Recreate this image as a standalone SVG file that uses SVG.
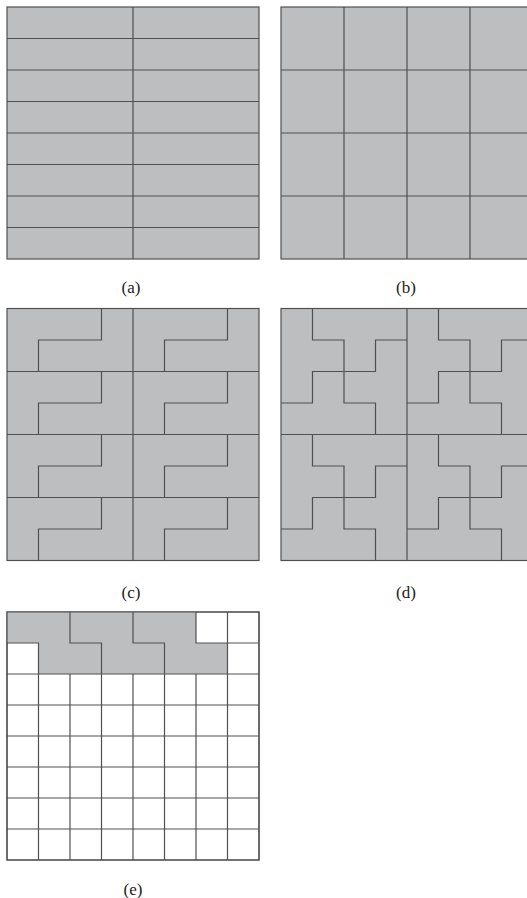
<svg xmlns="http://www.w3.org/2000/svg" xmlns:xlink="http://www.w3.org/1999/xlink" width="527" height="898" viewBox="0 0 527 898">
<style>
.panel{fill:#bdbec0;stroke:#505050;stroke-width:1.2}
.ln{fill:none;stroke:#505050;stroke-width:1.2}
.wpanel{fill:#ffffff;stroke:#505050;stroke-width:1.2}
.lbl{font-family:"Liberation Serif","DejaVu Serif",serif;font-size:17px;fill:#222;text-anchor:middle}
</style>
<defs>
<path id="cblk" class="ln" d="M94.5,0 V31.5 H31.5 V63"/>
<g id="dq">
<path class="ln" d="M31.5,0 V31.5 H63 V94.5 H94.5 V126"/>
<path class="ln" d="M126,31.5 H94.5 V63 H63"/>
<path class="ln" d="M0,94.5 H31.5 V63 H63"/>
</g>
</defs>
<rect width="527" height="898" fill="#ffffff"/>

<g id="panel-a">
<rect class="panel" x="7" y="7" width="252" height="252"/>
<path class="ln" d="M133,7 V259 M7,38.5 H259 M7,70 H259 M7,101.5 H259 M7,133 H259 M7,164.5 H259 M7,196 H259 M7,227.5 H259"/>
<text class="lbl" x="131" y="293">(a)</text>
</g>

<g id="panel-b">
<rect class="panel" x="281" y="7" width="252" height="252"/>
<path class="ln" d="M344,7 V259 M407,7 V259 M470,7 V259 M281,70 H533 M281,133 H533 M281,196 H533"/>
<text class="lbl" x="406" y="293">(b)</text>
</g>

<g id="panel-c">
<rect class="panel" x="7" y="308.5" width="252" height="252"/>
<path class="ln" d="M133,308.5 V560.5 M7,371.5 H259 M7,434.5 H259 M7,497.5 H259"/>
<use xlink:href="#cblk" x="7" y="308.5"/>
<use xlink:href="#cblk" x="133" y="308.5"/>
<use xlink:href="#cblk" x="7" y="371.5"/>
<use xlink:href="#cblk" x="133" y="371.5"/>
<use xlink:href="#cblk" x="7" y="434.5"/>
<use xlink:href="#cblk" x="133" y="434.5"/>
<use xlink:href="#cblk" x="7" y="497.5"/>
<use xlink:href="#cblk" x="133" y="497.5"/>
<text class="lbl" x="131" y="598">(c)</text>
</g>

<g id="panel-d">
<rect class="panel" x="281" y="308.5" width="252" height="252"/>
<path class="ln" d="M407,308.5 V560.5 M281,434.5 H533"/>
<use xlink:href="#dq" x="281" y="308.5"/>
<use xlink:href="#dq" x="407" y="308.5"/>
<use xlink:href="#dq" x="281" y="434.5"/>
<use xlink:href="#dq" x="407" y="434.5"/>
<text class="lbl" x="406" y="598">(d)</text>
</g>

<g id="panel-e">
<rect class="wpanel" x="7" y="612" width="252" height="248"/>
<rect x="7" y="612" width="189" height="31" fill="#bdbec0"/>
<rect x="38.5" y="643" width="189" height="31" fill="#bdbec0"/>
<path class="ln" d="M7,612 H259 V860 H7 Z"/>
<path class="ln" d="M7,643 H38.5 V674 M70,612 V643 H101.5 V674 M133,612 V643 H164.5 V674 M196,612 V643 H227.5 V674 M227.5,612 V643 H259"/>
<path class="ln" d="M7,674 H259 M7,705 H259 M7,736 H259 M7,767 H259 M7,798 H259 M7,829 H259"/>
<path class="ln" d="M38.5,674 V860 M70,674 V860 M101.5,674 V860 M133,674 V860 M164.5,674 V860 M196,674 V860 M227.5,674 V860"/>
<text class="lbl" x="133" y="895">(e)</text>
</g>
</svg>
